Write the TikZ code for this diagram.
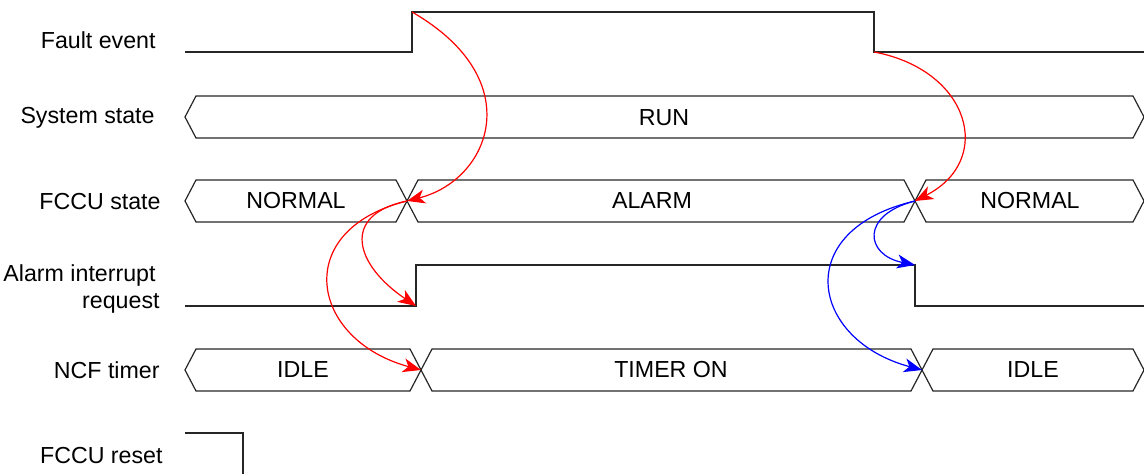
\documentclass[tikz,border=0pt]{standalone}
\usepackage{fontspec}
\setmainfont{Liberation Sans}
\usetikzlibrary{arrows.meta}

\tikzset{
  wave/.style={line width=0.6pt, black!85},
  cause/.style={->, red, line width=0.6pt},
  reply/.style={->, blue, line width=0.6pt},
  siglabel/.style={anchor=east, align=right, inner sep=0pt},
}
% bus segment: left x, right x, middle y
\newcommand\busseg[3]{%
  \draw[wave] (#1,#3) -- ({#1+11},{#3-21}) -- ({#2-11},{#3-21}) -- (#2,#3)
    -- ({#2-11},{#3+21}) -- ({#1+11},{#3+21}) -- cycle;}

\begin{document}
\begin{tikzpicture}[x=0.5pt, y=-0.5pt, every node/.style={font=\fontsize{11.6}{13.5}\selectfont}, >={Stealth[length=9pt,width=7pt,inset=2.5pt]}]
	\useasboundingbox (0,0) rectangle (1144,474);
	% signal names
	\node[siglabel] (lblFault) at (156,40) {Fault event};
	\node[siglabel] (lblSys) at (155,118) {System state};
	\node[siglabel] (lblFccu) at (161,202) {FCCU state};
	\node[siglabel] (lblIrq) at (160,289) {Alarm interrupt\kern2pt\\request};
	\node[siglabel] (lblNcf) at (160,370) {NCF timer};
	\node[siglabel] (lblReset) at (163,456) {FCCU reset};
	% waveforms
	\draw[wave] (185,52) -- (412,52) -- (412,12) -- (874,12) -- (874,52) -- (1144,52);
	\busseg{185}{1144}{117}
	\node (sysRun) at (664,118) {RUN};
	\foreach \xa/\xb/\xt/\txt/\nm in {185/407/296/NORMAL/fccuNormA, 407/915/652/ALARM/fccuAlarm, 915/1144/1030/NORMAL/fccuNormB}{
		\busseg{\xa}{\xb}{201}
		\node (\nm) at (\xt,201) {\txt};
	}
	\draw[wave] (185,306) -- (416,306) -- (416,265) -- (915,265) -- (915,306) -- (1144,306);
	\foreach \xa/\xb/\xt/\txt/\nm in {185/421/303/IDLE/ncfIdleA, 421/922/671/TIMER ON/ncfOn, 922/1144/1033/IDLE/ncfIdleB}{
		\busseg{\xa}{\xb}{370}
		\node (\nm) at (\xt,370) {\txt};
	}
	\draw[wave] (185,433) -- (243,433) -- (243,474);
	% event points
	\coordinate (faultRise) at (412,12);
	\coordinate (faultFall) at (874,52);
	\coordinate (fccuX1) at (407,201);
	\coordinate (fccuX2) at (915,201);
	\coordinate (irqRise) at (416,306);
	\coordinate (irqFall) at (915,265);
	\coordinate (ncfX1) at (421,370);
	\coordinate (ncfX2) at (922,370);
	% causality
	\draw[cause] (faultRise) .. controls (530,80) and (490,180) .. (fccuX1);
	\draw[cause] (faultFall) .. controls (970,70) and (995,160) .. (fccuX2);
	\draw[cause] (fccuX1) .. controls (340,215) and (355,265) .. (irqRise);
	\draw[cause] (fccuX1) .. controls (290,230) and (310,340) .. (ncfX1);
	\draw[reply] (fccuX2) .. controls (860,215) and (865,255) .. (irqFall);
	\draw[reply] (fccuX2) .. controls (790,230) and (810,340) .. (ncfX2);
\end{tikzpicture}
\end{document}
